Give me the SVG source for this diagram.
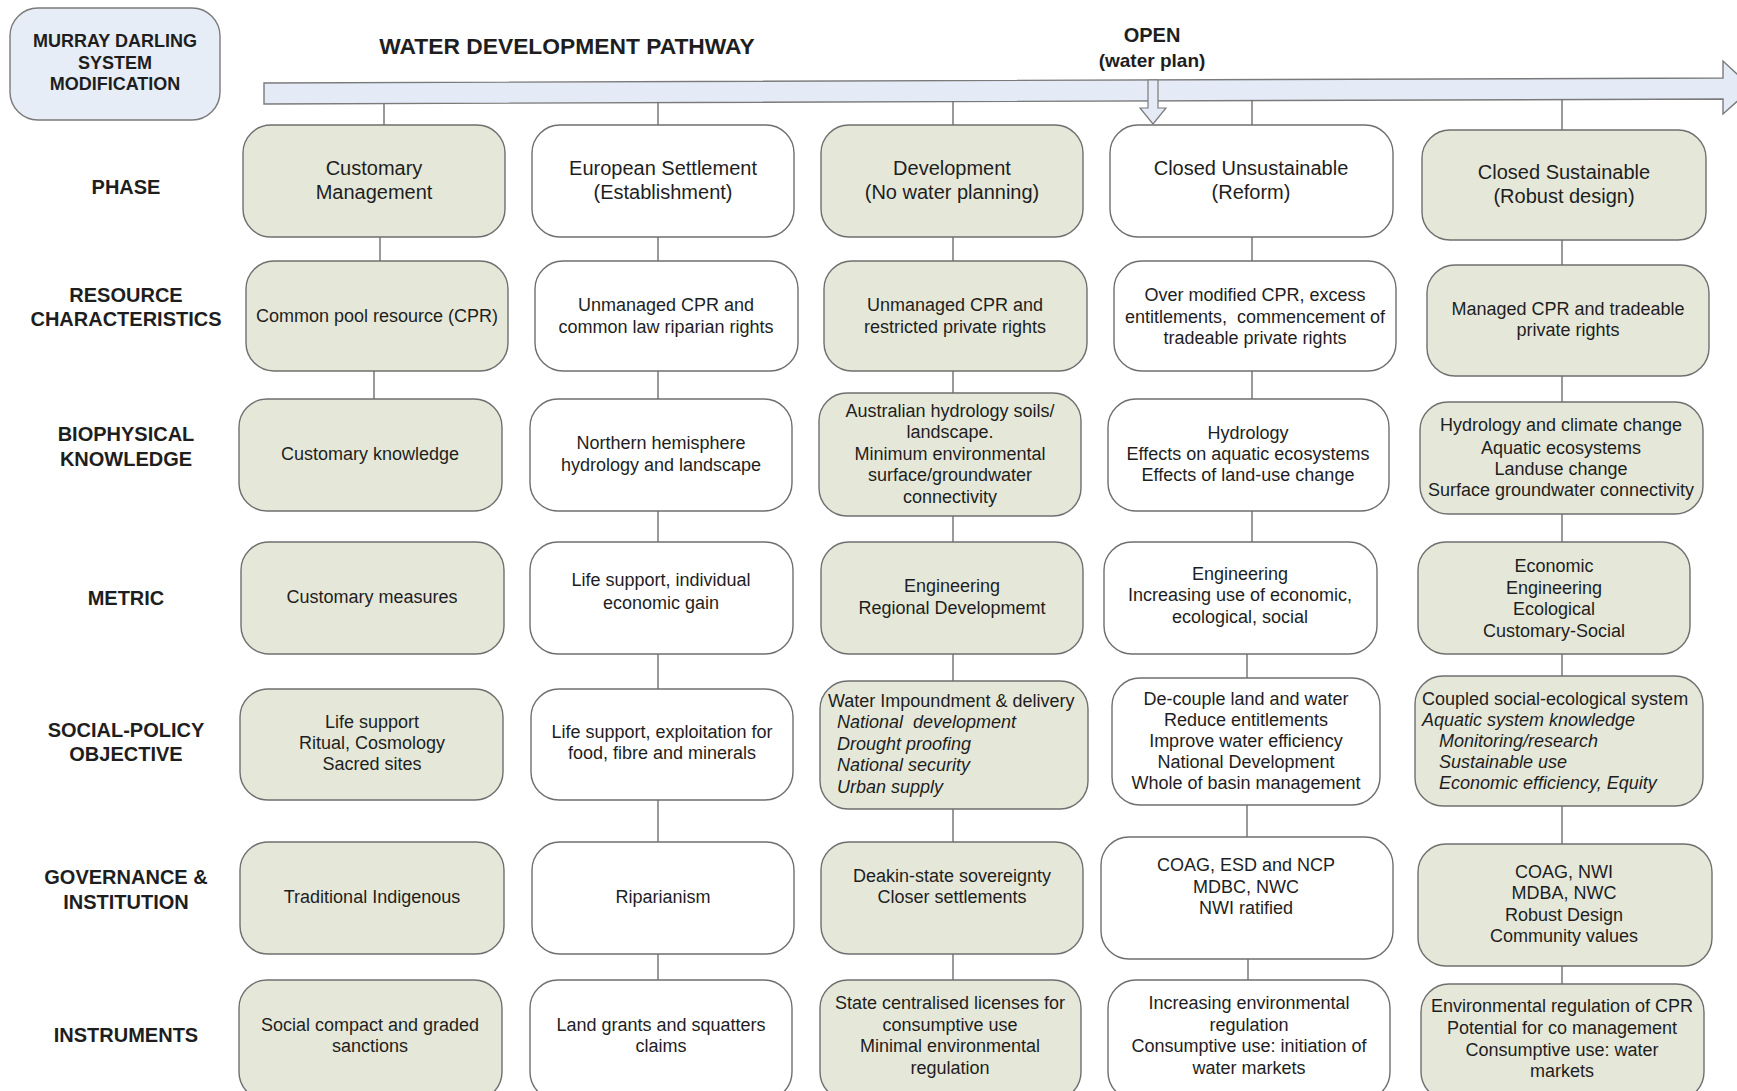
<svg xmlns="http://www.w3.org/2000/svg" width="1737" height="1091" viewBox="0 0 1737 1091">
<style>
  text { font-family: "Liberation Sans", Arial, sans-serif; fill: #1e1e1e; }
  .box { stroke: #6f6f6f; stroke-width: 1.4; }
  .g { fill: #e5e8d9; }
  .w { fill: #ffffff; }
  .t { font-size: 18px; text-anchor: middle; }
  .ts { font-size: 18px; }
  .ti { font-size: 18px; font-style: italic; }
  .ph { font-size: 20px; text-anchor: middle; }
  .lbl { font-size: 20px; font-weight: bold; text-anchor: middle; }
  .hd { font-weight: bold; text-anchor: middle; }
  .c line { stroke: #6f6f6f; stroke-width: 1.4; }
</style>
<rect width="1737" height="1091" fill="#ffffff"/>

<!-- header -->
<g id="mds">
  <rect x="10" y="8" width="210" height="112" rx="28" fill="#e6edf7" stroke="#7a7a7a" stroke-width="1.4"/>
  <text class="hd" x="115" y="47" font-size="18">MURRAY DARLING</text>
  <text class="hd" x="115" y="69" font-size="18">SYSTEM</text>
  <text class="hd" x="115" y="90" font-size="18">MODIFICATION</text>
</g>
<g id="title">
  <text class="hd" x="567" y="54" font-size="22.8">WATER DEVELOPMENT PATHWAY</text>
</g>
<g id="pathway-arrow">
  <polygon points="264,83 1723,78 1723,61 1752,88 1723,114 1723,99 264,104" fill="#e4ebf6" stroke="#7a7a7a" stroke-width="1.4"/>
</g>
<g id="open">
  <text class="hd" x="1152" y="42" font-size="20">OPEN</text>
  <text class="hd" x="1152" y="67" font-size="19">(water plan)</text>
  <polygon points="1148,80 1158,80 1158,108 1166,108 1153,124 1140,108 1148,108" fill="#e4ebf6" stroke="#7a7a7a" stroke-width="1.2"/>
</g>

<!-- row labels -->
<g id="row-labels">
  <text class="lbl" x="126" y="194">PHASE</text>
  <text class="lbl" x="126" y="302">RESOURCE</text>
  <text class="lbl" x="126" y="326">CHARACTERISTICS</text>
  <text class="lbl" x="126" y="441">BIOPHYSICAL</text>
  <text class="lbl" x="126" y="466">KNOWLEDGE</text>
  <text class="lbl" x="126" y="605">METRIC</text>
  <text class="lbl" x="126" y="737">SOCIAL-POLICY</text>
  <text class="lbl" x="126" y="761">OBJECTIVE</text>
  <text class="lbl" x="126" y="884">GOVERNANCE &amp;</text>
  <text class="lbl" x="126" y="909">INSTITUTION</text>
  <text class="lbl" x="126" y="1042">INSTRUMENTS</text>
</g>

<!-- connectors -->
<g id="connectors" class="c">
  <line x1="384" y1="104" x2="384" y2="125"/>
  <line x1="380" y1="237" x2="380" y2="261"/>
  <line x1="374" y1="371" x2="374" y2="399"/>

  <line x1="658" y1="102" x2="658" y2="125"/>
  <line x1="658" y1="237" x2="658" y2="261"/>
  <line x1="658" y1="371" x2="658" y2="399"/>
  <line x1="658" y1="511" x2="658" y2="542"/>
  <line x1="658" y1="654" x2="658" y2="689"/>
  <line x1="658" y1="800" x2="658" y2="842"/>
  <line x1="658" y1="954" x2="658" y2="980"/>

  <line x1="953" y1="101" x2="953" y2="125"/>
  <line x1="953" y1="237" x2="953" y2="261"/>
  <line x1="953" y1="371" x2="953" y2="393"/>
  <line x1="953" y1="516" x2="953" y2="542"/>
  <line x1="953" y1="654" x2="953" y2="681"/>
  <line x1="953" y1="809" x2="953" y2="842"/>
  <line x1="953" y1="954" x2="953" y2="980"/>

  <line x1="1252" y1="100" x2="1252" y2="125"/>
  <line x1="1252" y1="237" x2="1252" y2="261"/>
  <line x1="1252" y1="371" x2="1252" y2="399"/>
  <line x1="1252" y1="511" x2="1252" y2="542"/>
  <line x1="1247" y1="654" x2="1247" y2="678"/>
  <line x1="1247" y1="805" x2="1247" y2="837"/>
  <line x1="1248" y1="959" x2="1248" y2="980"/>

  <line x1="1562" y1="99" x2="1562" y2="130"/>
  <line x1="1562" y1="240" x2="1562" y2="265"/>
  <line x1="1562" y1="376" x2="1562" y2="402"/>
  <line x1="1562" y1="514" x2="1562" y2="542"/>
  <line x1="1562" y1="654" x2="1562" y2="676"/>
  <line x1="1562" y1="806" x2="1562" y2="844"/>
  <line x1="1562" y1="966" x2="1562" y2="984"/>
</g>

<!-- PHASE row -->
<g id="phase-1"><rect class="box g" x="243" y="125" width="262" height="112" rx="28"/>
  <text class="ph" x="374" y="175">Customary</text><text class="ph" x="374" y="199">Management</text></g>
<g id="phase-2"><rect class="box w" x="532" y="125" width="262" height="112" rx="28"/>
  <text class="ph" x="663" y="175">European Settlement</text><text class="ph" x="663" y="199">(Establishment)</text></g>
<g id="phase-3"><rect class="box g" x="821" y="125" width="262" height="112" rx="28"/>
  <text class="ph" x="952" y="175">Development</text><text class="ph" x="952" y="199">(No water planning)</text></g>
<g id="phase-4"><rect class="box w" x="1110" y="125" width="283" height="112" rx="28"/>
  <text class="ph" x="1251" y="175">Closed Unsustainable</text><text class="ph" x="1251" y="199">(Reform)</text></g>
<g id="phase-5"><rect class="box g" x="1422" y="130" width="284" height="110" rx="28"/>
  <text class="ph" x="1564" y="179">Closed Sustainable</text><text class="ph" x="1564" y="203">(Robust design)</text></g>

<!-- RESOURCE row -->
<g id="res-1"><rect class="box g" x="246" y="261" width="262" height="110" rx="28"/>
  <text class="t" x="377" y="322">Common pool resource (CPR)</text></g>
<g id="res-2"><rect class="box w" x="535" y="261" width="263" height="110" rx="28"/>
  <text class="t" x="666" y="311">Unmanaged CPR and</text><text class="t" x="666" y="333">common law riparian rights</text></g>
<g id="res-3"><rect class="box g" x="824" y="261" width="263" height="110" rx="28"/>
  <text class="t" x="955" y="311">Unmanaged CPR and</text><text class="t" x="955" y="333">restricted private rights</text></g>
<g id="res-4"><rect class="box w" x="1114" y="261" width="282" height="110" rx="28"/>
  <text class="t" x="1255" y="301">Over modified CPR, excess</text><text class="t" x="1255" y="323" xml:space="preserve">entitlements,  commencement of</text><text class="t" x="1255" y="344">tradeable private rights</text></g>
<g id="res-5"><rect class="box g" x="1427" y="265" width="282" height="111" rx="28"/>
  <text class="t" x="1568" y="315">Managed CPR and tradeable</text><text class="t" x="1568" y="336">private rights</text></g>

<!-- BIOPHYSICAL row -->
<g id="bio-1"><rect class="box g" x="239" y="399" width="263" height="112" rx="28"/>
  <text class="t" x="370" y="460">Customary knowledge</text></g>
<g id="bio-2"><rect class="box w" x="530" y="399" width="262" height="112" rx="28"/>
  <text class="t" x="661" y="449">Northern hemisphere</text><text class="t" x="661" y="471">hydrology and landscape</text></g>
<g id="bio-3"><rect class="box g" x="819" y="393" width="262" height="123" rx="28"/>
  <text class="t" x="950" y="417">Australian hydrology soils/</text><text class="t" x="950" y="438">landscape.</text><text class="t" x="950" y="460">Minimum environmental</text><text class="t" x="950" y="481">surface/groundwater</text><text class="t" x="950" y="503">connectivity</text></g>
<g id="bio-4"><rect class="box w" x="1108" y="399" width="281" height="112" rx="28"/>
  <text class="t" x="1248" y="439">Hydrology</text><text class="t" x="1248" y="460">Effects on aquatic ecosystems</text><text class="t" x="1248" y="481">Effects of land-use change</text></g>
<g id="bio-5"><rect class="box g" x="1420" y="402" width="283" height="112" rx="28"/>
  <text class="t" x="1561" y="431">Hydrology and climate change</text><text class="t" x="1561" y="454">Aquatic ecosystems</text><text class="t" x="1561" y="475">Landuse change</text><text class="t" x="1561" y="496">Surface groundwater connectivity</text></g>

<!-- METRIC row -->
<g id="met-1"><rect class="box g" x="241" y="542" width="263" height="112" rx="28"/>
  <text class="t" x="372" y="603">Customary measures</text></g>
<g id="met-2"><rect class="box w" x="530" y="542" width="263" height="112" rx="28"/>
  <text class="t" x="661" y="586">Life support, individual</text><text class="t" x="661" y="609">economic gain</text></g>
<g id="met-3"><rect class="box g" x="821" y="542" width="262" height="112" rx="28"/>
  <text class="t" x="952" y="592">Engineering</text><text class="t" x="952" y="614">Regional Developmemt</text></g>
<g id="met-4"><rect class="box w" x="1104" y="542" width="273" height="112" rx="28"/>
  <text class="t" x="1240" y="580">Engineering</text><text class="t" x="1240" y="601">Increasing use of economic,</text><text class="t" x="1240" y="623">ecological, social</text></g>
<g id="met-5"><rect class="box g" x="1418" y="542" width="272" height="112" rx="28"/>
  <text class="t" x="1554" y="572">Economic</text><text class="t" x="1554" y="594">Engineering</text><text class="t" x="1554" y="615">Ecological</text><text class="t" x="1554" y="637">Customary-Social</text></g>

<!-- SOCIAL-POLICY row -->
<g id="soc-1"><rect class="box g" x="240" y="689" width="263" height="111" rx="28"/>
  <text class="t" x="372" y="728">Life support</text><text class="t" x="372" y="749">Ritual, Cosmology</text><text class="t" x="372" y="770">Sacred sites</text></g>
<g id="soc-2"><rect class="box w" x="531" y="689" width="262" height="111" rx="28"/>
  <text class="t" x="662" y="738">Life support, exploitation for</text><text class="t" x="662" y="759">food, fibre and minerals</text></g>
<g id="soc-3"><rect class="box g" x="820" y="681" width="268" height="128" rx="28"/>
  <text class="ts" x="828" y="707">Water Impoundment &amp; delivery</text>
  <text class="ti" x="837" y="728" xml:space="preserve">National  development</text>
  <text class="ti" x="837" y="750">Drought proofing</text>
  <text class="ti" x="837" y="771">National security</text>
  <text class="ti" x="837" y="793">Urban supply</text></g>
<g id="soc-4"><rect class="box w" x="1112" y="678" width="268" height="127" rx="28"/>
  <text class="t" x="1246" y="705">De-couple land and water</text><text class="t" x="1246" y="726">Reduce entitlements</text><text class="t" x="1246" y="747">Improve water efficiency</text><text class="t" x="1246" y="768">National Development</text><text class="t" x="1246" y="789">Whole of basin management</text></g>
<g id="soc-5"><rect class="box g" x="1415" y="676" width="288" height="130" rx="28"/>
  <text class="ts" x="1422" y="705">Coupled social-ecological system</text>
  <text class="ti" x="1422" y="726">Aquatic system knowledge</text>
  <text class="ti" x="1439" y="747">Monitoring/research</text>
  <text class="ti" x="1439" y="768">Sustainable use</text>
  <text class="ti" x="1439" y="789">Economic efficiency, Equity</text></g>

<!-- GOVERNANCE row -->
<g id="gov-1"><rect class="box g" x="240" y="842" width="264" height="112" rx="28"/>
  <text class="t" x="372" y="903">Traditional Indigenous</text></g>
<g id="gov-2"><rect class="box w" x="532" y="842" width="262" height="112" rx="28"/>
  <text class="t" x="663" y="903">Riparianism</text></g>
<g id="gov-3"><rect class="box g" x="821" y="842" width="262" height="112" rx="28"/>
  <text class="t" x="952" y="882">Deakin-state sovereignty</text><text class="t" x="952" y="903">Closer settlements</text></g>
<g id="gov-4"><rect class="box w" x="1101" y="837" width="292" height="122" rx="28"/>
  <text class="t" x="1246" y="871">COAG, ESD and NCP</text><text class="t" x="1246" y="893">MDBC, NWC</text><text class="t" x="1246" y="914">NWI ratified</text></g>
<g id="gov-5"><rect class="box g" x="1418" y="844" width="294" height="122" rx="28"/>
  <text class="t" x="1564" y="878">COAG, NWI</text><text class="t" x="1564" y="899">MDBA, NWC</text><text class="t" x="1564" y="921">Robust Design</text><text class="t" x="1564" y="942">Community values</text></g>

<!-- INSTRUMENTS row -->
<g id="ins-1"><rect class="box g" x="239" y="980" width="263" height="120" rx="28"/>
  <text class="t" x="370" y="1031">Social compact and graded</text><text class="t" x="370" y="1052">sanctions</text></g>
<g id="ins-2"><rect class="box w" x="530" y="980" width="262" height="120" rx="28"/>
  <text class="t" x="661" y="1031">Land grants and squatters</text><text class="t" x="661" y="1052">claims</text></g>
<g id="ins-3"><rect class="box g" x="820" y="980" width="261" height="120" rx="28"/>
  <text class="t" x="950" y="1009">State centralised licenses for</text><text class="t" x="950" y="1031">consumptive use</text><text class="t" x="950" y="1052">Minimal environmental</text><text class="t" x="950" y="1074">regulation</text></g>
<g id="ins-4"><rect class="box w" x="1108" y="980" width="282" height="120" rx="28"/>
  <text class="t" x="1249" y="1009">Increasing environmental</text><text class="t" x="1249" y="1031">regulation</text><text class="t" x="1249" y="1052">Consumptive use: initiation of</text><text class="t" x="1249" y="1074">water markets</text></g>
<g id="ins-5"><rect class="box g" x="1421" y="984" width="283" height="116" rx="28"/>
  <text class="t" x="1562" y="1012">Environmental regulation of CPR</text><text class="t" x="1562" y="1034">Potential for co management</text><text class="t" x="1562" y="1056">Consumptive use: water</text><text class="t" x="1562" y="1077">markets</text></g>
</svg>
